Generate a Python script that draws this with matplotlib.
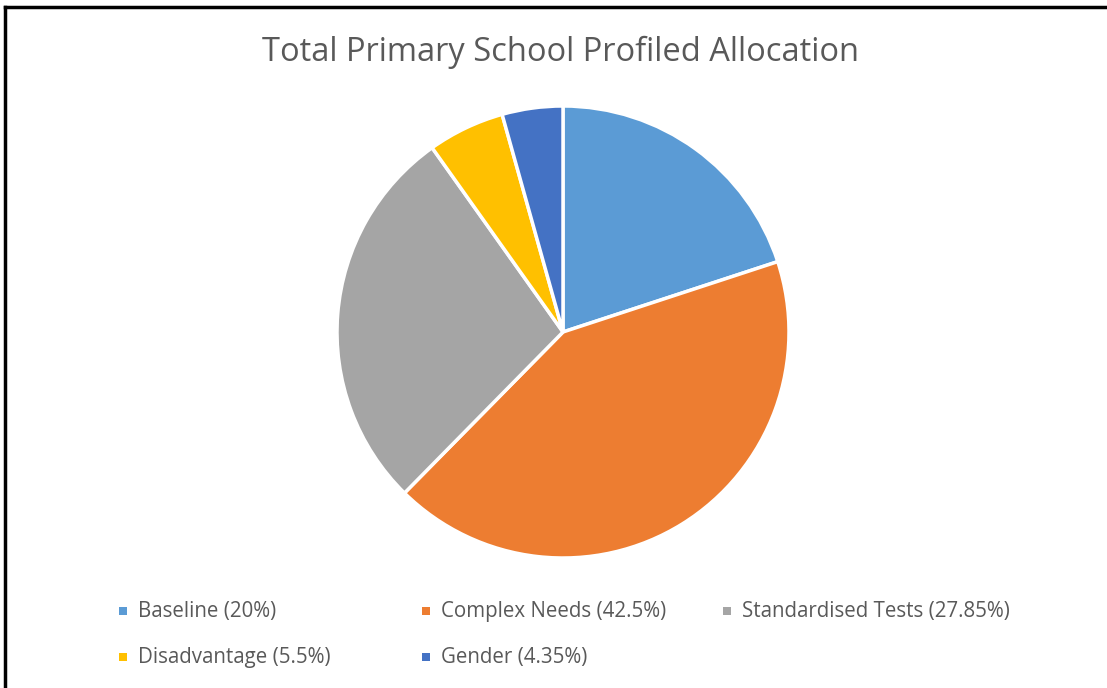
import matplotlib.pyplot as plt
from matplotlib.patches import Rectangle

categories = ["Baseline", "Complex Needs", "Standardised Tests", "Disadvantage", "Gender"]
values = [20, 42.5, 27.85, 5.5, 4.35]
value_labels = ["20%", "42.5%", "27.85%", "5.5%", "4.35%"]
colors = ["#5B9BD5", "#ED7D31", "#A5A5A5", "#FFC000", "#4472C4"]

W, H = 1107, 688
fig = plt.figure(figsize=(W / 100, H / 100), dpi=100)
fig.patch.set_facecolor("white")

# pie axes: center (563, 332), radius 225
cx, cy, r = 563, 332, 226
ax = fig.add_axes([(cx - r) / W, 1 - (cy + r) / H, 2 * r / W, 2 * r / H])
ax.pie(values, colors=colors, startangle=90, counterclock=False,
       wedgeprops=dict(edgecolor="white", linewidth=2.5), radius=1.0)
ax.set_xlim(-1, 1)
ax.set_ylim(-1, 1)
ax.set_aspect("equal")
ax.axis("off")

font = "Open Sans"
fig.text(561 / W, 1 - 52 / H, "Total Primary School Profiled Allocation",
         ha="center", va="center", fontsize=23.5, color="#595959", family=font)

# legend, laid out in 3 equal-width columns
col_x = [123, 426, 727]
row_y = [611, 657]
for i, (cat, lab, c) in enumerate(zip(categories, value_labels, colors)):
    row, col = divmod(i, 3)
    x, y = col_x[col], row_y[row]
    fig.patches.append(Rectangle(((x - 4) / W, 1 - (y + 4) / H), 8 / W, 8 / H,
                                 transform=fig.transFigure, facecolor=c,
                                 edgecolor="none"))
    fig.text((x + 15) / W, 1 - (y + 1) / H, f"{cat} ({lab})", ha="left", va="center",
             fontsize=14.8, color="#595959", family=font)

# border (top and left visible; right/bottom cut off)
fig.add_artist(plt.Line2D([5 / W, 5 / W], [0, 1 - 7 / H], transform=fig.transFigure,
                          color="black", linewidth=2.5))
fig.add_artist(plt.Line2D([5 / W, 1], [1 - 7 / H, 1 - 7 / H], transform=fig.transFigure,
                          color="black", linewidth=2.5))

fig.savefig("out.png", dpi=100, facecolor="white")
